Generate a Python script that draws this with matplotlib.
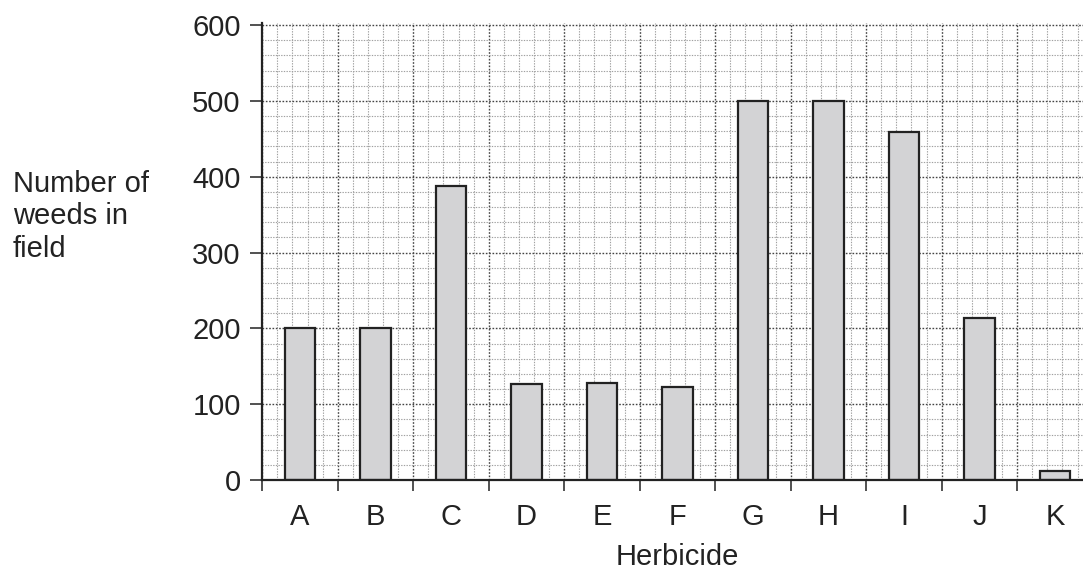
import matplotlib
matplotlib.use("Agg")
import matplotlib.pyplot as plt
from matplotlib.ticker import MultipleLocator

categories = ["A", "B", "C", "D", "E", "F", "G", "H", "I", "J", "K"]
weeds = [200, 200, 388, 126, 128, 123, 500, 500, 459, 214, 12]
y_ticks = [0, 100, 200, 300, 400, 500, 600]

plt.rcParams['font.family'] = ['Liberation Sans', 'DejaVu Sans']

W, H = 1083, 570
fig = plt.figure(figsize=(W / 100, H / 100), dpi=100)
x0, x1 = 262.2, 1083
y0 = 480
ppu = 455 / 600.0
ytop_val = 603
ax = fig.add_axes([x0 / W, (H - y0) / H, (x1 - x0) / W, ytop_val * ppu / H])

xs = list(range(len(categories)))
ax.bar(xs, weeds, width=0.4, color="#d3d3d5", edgecolor="#222222", linewidth=1.6, zorder=3)

ax.set_xlim(-0.5, -0.5 + (x1 - x0) / 75.5)
ax.set_ylim(0, ytop_val)

# grid
ax.xaxis.set_major_locator(MultipleLocator(1.0, offset=0.5))
ax.xaxis.set_minor_locator(MultipleLocator(0.2, offset=0.1))
ax.yaxis.set_major_locator(MultipleLocator(100))
ax.yaxis.set_minor_locator(MultipleLocator(20))
ax.grid(which="major", color="#444444", linestyle=(0, (1.2, 1.2)), linewidth=1.0, zorder=0)
ax.grid(which="minor", color="#a0a0a0", linestyle=(0, (1.2, 1.2)), linewidth=0.8, zorder=0)
ax.set_axisbelow(True)

ax.set_yticks(y_ticks)
ax.set_yticklabels([str(v) for v in y_ticks])
ax.tick_params(axis="y", which="major", length=8.5, width=1.2, color="#333333", labelsize=21, pad=7)
ax.tick_params(axis="x", which="major", length=8, width=1.2, color="#333333", labelbottom=False)
ax.tick_params(which="minor", length=0)

for i, c in enumerate(categories):
    ax.text(i, -49, c, ha="center", va="center", fontsize=21, color="#222222")

ax.text(5.0, -102, "Herbicide", ha="center", va="center", fontsize=21, color="#222222")
fig.text(13 / W, 1 - 216.5 / H, "Number of\nweeds in\nfield", ha="left", va="center",
         fontsize=21, color="#222222", linespacing=1.19)

for s in ["top", "right"]:
    ax.spines[s].set_visible(False)
for s in ["left", "bottom"]:
    ax.spines[s].set_color("#222222")
    ax.spines[s].set_linewidth(1.6)
    ax.spines[s].set_zorder(4)

for lbl in ax.get_yticklabels():
    lbl.set_color("#222222")

fig.savefig("out.png", dpi=100)
